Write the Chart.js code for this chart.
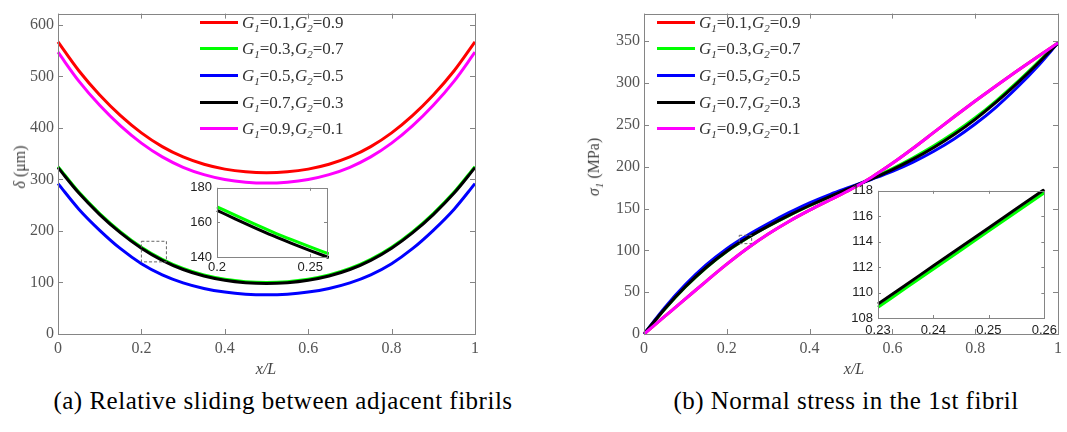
<!DOCTYPE html>
<html>
<head>
<meta charset="utf-8">
<script src="https://cdn.jsdelivr.net/npm/chart.js@4/dist/chart.umd.min.js"></script>
<style>
  body { margin: 0; background: #fff; width: 1067px; height: 432px; position: relative; overflow: hidden; }
  canvas { position: absolute; }
  .txt { position: absolute; font-family: "Liberation Serif", serif; white-space: nowrap; }
  .legend { position: absolute; font-family: "Liberation Serif", serif; font-size: 17px; color: #333; }
  .row { position: absolute; height: 20px; line-height: 20px; white-space: nowrap; }
  .swatch { position: absolute; left: 0; top: 8px; width: 38px; height: 3px; }
  .lab { position: absolute; left: 42px; top: 0; }
  .lab i sub { font-size: 11px; vertical-align: -4px; }
  .ytitle { transform: translate(-50%, -50%) rotate(-90deg); font-size: 16px; color: #444; }
  .xtitle { transform: translate(-50%, -50%); font-size: 16px; color: #444; font-style: italic; }
  .caption { transform: translate(-50%, -50%); font-size: 25px; letter-spacing: 0.5px; color: #000; }
</style>
</head>
<body>
<canvas id="mainA" width="490" height="380" style="left:0;top:0"></canvas>
<canvas id="mainB" width="537" height="380" style="left:530px;top:0"></canvas>
<canvas id="insetA" width="165" height="105" style="left:170px;top:175px"></canvas>
<canvas id="insetB" width="222" height="166" style="left:840px;top:178px"></canvas>

<div class="txt ytitle" style="left:20px;top:167px"><i>δ</i> (μm)</div>
<div class="txt ytitle" style="left:595px;top:167px"><i>σ<sub style="font-size:11px">1</sub></i> (MPa)</div>
<div class="txt xtitle" style="left:266px;top:369px">x/L</div>
<div class="txt xtitle" style="left:854px;top:369px">x/L</div>
<div class="txt caption" style="left:283px;top:401px">(a) Relative sliding between adjacent fibrils</div>
<div class="txt caption" style="left:846px;top:401px">(b) Normal stress in the 1st fibril</div>
<div class="legend" id="legA" style="left:200px;top:0"></div>
<div class="legend" id="legB" style="left:657px;top:0"></div>

<script>
// series: G1 / G2 pairs
const g1 = [0.1, 0.3, 0.5, 0.7, 0.9];
const g2 = [0.9, 0.7, 0.5, 0.3, 0.1];
const colors = ["#ff0000", "#00ff00", "#0000ff", "#000000", "#ff00ff"];

// x/L positions
const xs = [0, 0.05, 0.1, 0.15, 0.2, 0.25, 0.3, 0.35, 0.4, 0.45, 0.5,
            0.55, 0.6, 0.65, 0.7, 0.75, 0.8, 0.85, 0.9, 0.95, 1];

// (a) relative sliding delta (um)
const deltaRed     = [567, 511, 464, 424, 390.5, 363.8, 343.7, 329.5, 320.1, 314.8, 313, 314.8, 320.1, 329.5, 343.7, 363.8, 390.5, 424, 464, 511, 567];
const deltaGreen   = [325, 275.5, 233.9, 198.3, 168.6, 145, 127.2, 114.6, 106.3, 101.6, 100, 101.6, 106.3, 114.6, 127.2, 145, 168.6, 198.3, 233.9, 275.5, 325];
const deltaBlue    = [292, 242.3, 201.3, 165.6, 136.5, 114.9, 99.3, 88.5, 81.4, 77.3, 76, 77.3, 81.4, 88.5, 99.3, 114.9, 136.5, 165.6, 201.3, 242.3, 292];
const deltaBlack   = [323, 273.5, 231.9, 196.3, 166.6, 143, 125.2, 112.6, 104.3, 99.6, 98, 99.6, 104.3, 112.6, 125.2, 143, 166.6, 196.3, 231.9, 273.5, 323];
const deltaMagenta = [547, 491, 444, 404, 370.5, 343.8, 323.7, 309.5, 300.1, 294.8, 293, 294.8, 300.1, 309.5, 323.7, 343.8, 370.5, 404, 444, 491, 547];

// (b) normal stress sigma1 (MPa)
const sigmaRed     = [0, 21, 42, 63, 83.5, 102.5, 119.5, 134.5, 148, 160.5, 173, 187.5, 204, 222, 241, 260, 278.5, 296.5, 314, 331, 348];
const sigmaGreen   = [0, 29.7, 56.2, 79.2, 98.7, 114.8, 128.8, 141.6, 153.4, 164.5, 175, 186, 197.8, 210.7, 225, 240.8, 258.5, 278.5, 300.5, 324, 348];
const sigmaBlue    = [0, 31.5, 59, 82.5, 102, 118, 132, 145, 156.8, 167, 176, 185, 194.5, 205.5, 218.5, 233.5, 251, 271, 294, 319.5, 348];
const sigmaBlack   = [0, 30, 56.5, 79.5, 99, 115, 129, 141.8, 153.6, 164.6, 175, 185.3, 196.5, 209, 223, 238.8, 256.6, 276.8, 299, 322.8, 348];
const sigmaMagenta = [0, 21, 42, 63, 83.5, 102.5, 119.5, 134.5, 148, 160.5, 173, 187.5, 204, 222, 241, 260, 278.5, 296.5, 314, 331, 348];

// insets (zoomed regions)
const insetAX     = [0.2, 0.21, 0.22, 0.23, 0.24, 0.25, 0.26];
const insetAGreen = [169, 164, 159.1, 154.4, 150, 145.8, 141.8];
const insetABlack = [167, 161.9, 157, 152.3, 147.9, 143.7, 139.7];
const insetBX     = [0.23, 0.235, 0.24, 0.245, 0.25, 0.255, 0.26];
const insetBGreen = [108.85, 110.35, 111.85, 113.35, 114.85, 116.35, 117.85];
const insetBBlack = [109.1, 110.6, 112.1, 113.6, 115.1, 116.6, 118.1];

// zoom boxes [xmin, xmax, ymin, ymax]
const boxA = [0.2, 0.26, 140, 180];
const boxB = [0.23, 0.26, 108, 118];

// tick labels
const mainXTicks = [0, 0.2, 0.4, 0.6, 0.8, 1];
const deltaTicks = [0, 100, 200, 300, 400, 500, 600];
const sigmaTicks = [0, 50, 100, 150, 200, 250, 300, 350];
const insetAXTicks = [0.2, 0.25];
const insetAYTicks = [140, 160, 180];
const insetBXTicks = [0.23, 0.24, 0.25, 0.26];
const insetBYTicks = [108, 110, 112, 114, 116, 118];

// legend
function buildLegend(id) {
  const el = document.getElementById(id);
  g1.forEach((a, i) => {
    const row = document.createElement("div");
    row.className = "row";
    row.style.top = (12.7 + 26.65 * i) + "px";
    row.innerHTML = '<span class="swatch" style="background:' + colors[i] + '"></span>' +
      '<span class="lab"><i>G<sub>1</sub></i>=' + a + ',<i>G<sub>2</sub></i>=' + g2[i] + '</span>';
    el.appendChild(row);
  });
}
buildLegend("legA");
buildLegend("legB");

// frame, inward ticks, white plot background and zoom box
const framePlugin = {
  id: "frame",
  beforeDatasetsDraw(chart) {
    const a = chart.chartArea, ctx = chart.ctx;
    ctx.save();
    ctx.fillStyle = "#fff";
    ctx.fillRect(a.left, a.top, a.right - a.left, a.bottom - a.top);
    ctx.restore();
  },
  afterDatasetsDraw(chart, args, opts) {
    const a = chart.chartArea, ctx = chart.ctx;
    const sx = chart.scales.x, sy = chart.scales.y;
    const L = opts.tickLen || 4;
    ctx.save();
    ctx.strokeStyle = opts.color || "#858585";
    ctx.lineWidth = 1;
    ctx.beginPath();
    sx.ticks.forEach(t => {
      const px = Math.round(sx.getPixelForValue(t.value)) + 0.5;
      ctx.moveTo(px, a.bottom); ctx.lineTo(px, a.bottom - L);
      ctx.moveTo(px, a.top); ctx.lineTo(px, a.top + L);
    });
    sy.ticks.forEach(t => {
      const py = Math.round(sy.getPixelForValue(t.value)) + 0.5;
      ctx.moveTo(a.left, py); ctx.lineTo(a.left + L, py);
      ctx.moveTo(a.right, py); ctx.lineTo(a.right - L, py);
    });
    ctx.stroke();
    ctx.strokeRect(Math.round(a.left) + 0.5, Math.round(a.top) + 0.5,
                   Math.round(a.right - a.left), Math.round(a.bottom - a.top));
    if (opts.box) {
      const b = opts.box;
      const x0 = sx.getPixelForValue(b[0]), x1 = sx.getPixelForValue(b[1]);
      const y0 = sy.getPixelForValue(b[3]), y1 = sy.getPixelForValue(b[2]);
      ctx.setLineDash([3, 2]);
      ctx.strokeStyle = "#666";
      ctx.strokeRect(x0, y0, x1 - x0, y1 - y0);
    }
    ctx.restore();
  }
};

// Chart.js puts lower "order" on top, so later series get lower order
function series(xv, yv, color, order) {
  return {
    data: xv.map((x, i) => ({ x: x, y: yv[i] })),
    borderColor: color,
    borderWidth: 3,
    pointRadius: 0,
    fill: false,
    cubicInterpolationMode: "monotone",
    clip: 2,
    order: order
  };
}

function makeChart(id, o) {
  return new Chart(document.getElementById(id), {
    type: "line",
    data: { datasets: o.datasets },
    options: {
      responsive: false,
      animation: false,
      devicePixelRatio: 1,
      layout: { padding: { top: o.padTop, right: o.padRight, left: 0, bottom: 0 } },
      plugins: {
        legend: { display: false },
        tooltip: { enabled: false },
        frame: { tickLen: o.tickLen, box: o.box, color: o.frameColor }
      },
      scales: {
        x: {
          type: "linear", min: o.xMin, max: o.xMax,
          grid: { display: false, drawTicks: false },
          border: { display: false },
          afterBuildTicks: s => { s.ticks = o.xTicks.map(v => ({ value: v })); },
          afterFit: s => { s.height = o.xHeight; },
          ticks: { padding: o.xPad, color: o.tickColor, maxRotation: 0, autoSkip: false,
                   font: { family: o.font, size: o.fontSize }, callback: v => String(v) }
        },
        y: {
          type: "linear", min: o.yMin, max: o.yMax,
          grid: { display: false, drawTicks: false },
          border: { display: false },
          afterBuildTicks: s => { s.ticks = o.yTicks.map(v => ({ value: v })); },
          afterFit: s => { s.width = o.yWidth; },
          ticks: { padding: o.yPad, color: o.tickColor, autoSkip: false,
                   font: { family: o.font, size: o.fontSize }, callback: v => String(v) }
        }
      }
    },
    plugins: [framePlugin]
  });
}

const serif = "'Liberation Serif', serif";
const sans = "'Liberation Sans', sans-serif";

makeChart("mainA", {
  datasets: [
    series(xs, deltaRed, colors[0], 4),
    series(xs, deltaGreen, colors[1], 3),
    series(xs, deltaBlue, colors[2], 2),
    series(xs, deltaBlack, colors[3], 1),
    series(xs, deltaMagenta, colors[4], 0)
  ],
  xMin: 0, xMax: 1, yMin: 0, yMax: 622,
  xTicks: mainXTicks, yTicks: deltaTicks,
  yWidth: 58, xHeight: 46, padTop: 2, padRight: 15,
  xPad: 5, yPad: 4, font: serif, fontSize: 16, tickColor: "#555",
  tickLen: 5, box: boxA
});

makeChart("mainB", {
  datasets: [
    series(xs, sigmaRed, colors[0], 4),
    series(xs, sigmaGreen, colors[1], 3),
    series(xs, sigmaBlue, colors[2], 2),
    series(xs, sigmaBlack, colors[3], 1),
    series(xs, sigmaMagenta, colors[4], 0)
  ],
  xMin: 0, xMax: 1, yMin: 0, yMax: 383,
  xTicks: mainXTicks, yTicks: sigmaTicks,
  yWidth: 114, xHeight: 46, padTop: 2, padRight: 2,
  xPad: 5, yPad: 4, font: serif, fontSize: 16, tickColor: "#555",
  tickLen: 5, box: boxB
});

makeChart("insetA", {
  datasets: [
    series(insetAX, insetAGreen, colors[1], 1),
    series(insetAX, insetABlack, colors[3], 0)
  ],
  xMin: 0.2, xMax: 0.259, yMin: 140, yMax: 180,
  xTicks: insetAXTicks, yTicks: insetAYTicks,
  yWidth: 47, xHeight: 23, padTop: 9, padRight: 8,
  xPad: 3, yPad: 5, font: sans, fontSize: 13, tickColor: "#222",
  tickLen: 3
});

makeChart("insetB", {
  datasets: [
    series(insetBX, insetBGreen, colors[1], 1),
    series(insetBX, insetBBlack, colors[3], 0)
  ],
  xMin: 0.23, xMax: 0.26, yMin: 108, yMax: 118,
  xTicks: insetBXTicks, yTicks: insetBYTicks,
  yWidth: 38, xHeight: 26, padTop: 9, padRight: 10,
  xPad: 5, yPad: 5, font: sans, fontSize: 13, tickColor: "#222",
  tickLen: 3
});
</script>
</body>
</html>
